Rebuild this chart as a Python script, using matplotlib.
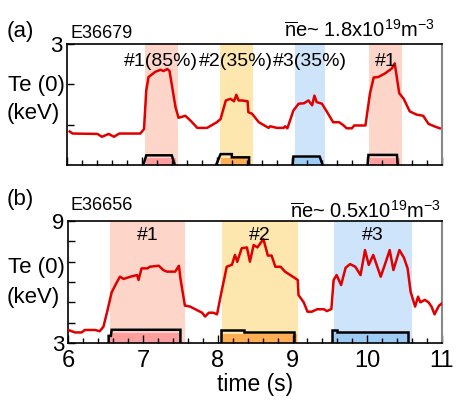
import matplotlib
matplotlib.use("Agg")
import matplotlib.pyplot as plt
from matplotlib.ticker import MultipleLocator

plt.rcParams['font.family'] = ['Liberation Sans', 'DejaVu Sans']
plt.rcParams['mathtext.fontset'] = 'custom'
plt.rcParams['mathtext.rm'] = 'Liberation Sans'
plt.rcParams['mathtext.it'] = 'Liberation Sans:italic'

# ---------------- data ----------------
a_t = [6.04, 6.08, 6.41, 6.47, 6.56, 6.63, 6.70, 6.98, 7.03, 7.06, 7.09, 7.18, 7.25, 7.29,
       7.34, 7.37, 7.45, 7.49, 7.58, 7.65, 7.74, 7.87, 8.00, 8.05, 8.12, 8.18, 8.23, 8.26,
       8.29, 8.34, 8.41, 8.42, 8.47, 8.56, 8.69, 8.71, 8.80, 8.89, 8.91, 8.94, 9.02, 9.09,
       9.16, 9.22, 9.27, 9.30, 9.33, 9.40, 9.47, 9.55, 9.63, 9.69, 9.73, 9.80, 9.83, 9.98,
       10.04, 10.09, 10.15, 10.24, 10.33, 10.37, 10.43, 10.49, 10.57, 10.66, 10.75, 10.82,
       10.91, 10.97]
a_te = [0.83, 0.78, 0.77, 0.70, 0.77, 0.70, 0.78, 0.78, 0.89, 1.85, 2.18, 2.31, 2.36, 2.33,
        2.38, 2.33, 1.43, 1.17, 1.22, 1.10, 0.92, 0.92, 1.06, 1.14, 1.60, 1.64, 1.58, 1.74,
        1.60, 1.60, 1.58, 1.31, 1.27, 1.06, 0.92, 0.96, 0.92, 0.92, 0.96, 0.91, 1.35, 1.52,
        1.53, 1.60, 1.48, 1.72, 1.56, 1.52, 1.31, 1.06, 1.06, 0.98, 0.91, 0.91, 0.98, 0.98,
        1.77, 2.17, 2.18, 2.27, 2.39, 2.52, 1.78, 1.64, 1.33, 1.25, 1.22, 1.02, 0.95, 0.91]

b_t = [6.00, 6.09, 6.18, 6.22, 6.36, 6.42, 6.47, 6.52, 6.58, 6.63, 6.69, 6.74, 6.78, 6.85,
       6.92, 6.94, 6.98, 7.06, 7.09, 7.21, 7.27, 7.32, 7.43, 7.48, 7.50, 7.56, 7.63, 7.72,
       7.79, 7.83, 7.88, 7.94, 7.99, 8.05, 8.12, 8.19, 8.23, 8.26, 8.32, 8.39, 8.43, 8.48,
       8.53, 8.61, 8.67, 8.72, 8.77, 8.84, 8.90, 8.97, 9.07, 9.08, 9.15, 9.20, 9.26, 9.33,
       9.42, 9.46, 9.52, 9.55, 9.59, 9.65, 9.71, 9.77, 9.84, 9.91, 9.97, 10.02, 10.08, 10.18,
       10.24, 10.30, 10.35, 10.43, 10.49, 10.54, 10.58, 10.64, 10.68, 10.71, 10.77, 10.82,
       10.86, 10.90, 10.96, 11.00]
b_te = [3.64, 3.52, 3.52, 3.64, 3.64, 3.58, 3.80, 4.54, 5.49, 5.85, 6.26, 6.15, 6.20, 6.28,
        6.34, 6.10, 6.67, 6.67, 6.75, 6.80, 6.59, 6.51, 6.51, 6.80, 6.18, 4.84, 4.79, 4.62,
        4.49, 4.30, 4.49, 4.49, 4.41, 5.52, 6.75, 6.85, 7.33, 6.99, 7.66, 7.70, 7.00, 7.82,
        7.70, 8.11, 7.30, 7.30, 6.75, 6.75, 6.51, 6.34, 6.10, 5.36, 5.00, 4.54, 4.54, 4.66,
        4.66, 4.57, 4.67, 6.10, 6.34, 5.85, 6.70, 6.88, 6.75, 6.34, 7.57, 6.84, 7.33, 6.26,
        6.90, 7.57, 6.59, 7.57, 7.20, 6.67, 5.52, 4.79, 5.28, 5.00, 5.12, 5.00, 4.79, 4.41,
        4.84, 4.95]

# heating windows (shaded bands)
a_spans = [(7.04, 7.48), (8.04, 8.48), (9.04, 9.44), (10.03, 10.47)]
a_labels = ["#1(85%)", "#2(35%)", "#3(35%)", "#1"]
b_spans = [(6.56, 7.56), (8.06, 9.07), (9.56, 10.60)]
b_labels = ["#1", "#2", "#3"]

# power waveform boxes (outline t, outline y, fill start, fill end, fill top)
a_box_t = [[7.02, 7.06, 7.40, 7.44],
           [7.99, 8.05, 8.20, 8.20, 8.43, 8.43],
           [9.01, 9.02, 9.37, 9.41],
           [10.01, 10.02, 10.40, 10.41]]
a_box_y = [[0, 0.24, 0.24, 0],
           [0, 0.27, 0.27, 0.19, 0.19, 0],
           [0, 0.21, 0.21, 0],
           [0, 0.25, 0.25, 0]]
a_fill = [(7.06, 7.46, 0.18), (8.05, 8.43, 0.17), (9.02, 9.40, 0.17), (10.04, 10.44, 0.18)]

b_box_t = [[6.54, 6.54, 6.57, 6.58, 7.50, 7.50],
           [8.04, 8.04, 8.35, 8.35, 9.02, 9.02],
           [9.53, 9.53, 9.60, 9.60, 10.55, 10.55]]
b_box_y = [[3, 3.35, 3.35, 3.65, 3.65, 3],
           [3, 3.66, 3.66, 3.56, 3.56, 3],
           [3, 3.66, 3.66, 3.56, 3.56, 3]]
b_fill = [(6.56, 7.51, 3.50), (8.04, 9.06, 3.42), (9.53, 10.55, 3.52)]

span_colors = ["#fdd6c9", "#fde7ae", "#cde4fa", "#fdd6c9"]
fill_colors = ["#ff9e9e", "#ffad52", "#9dcbf4", "#ff9e9e"]
b_span_colors = ["#fdd6c9", "#fde7ae", "#cde4fa"]
b_fill_colors = ["#ff9e9e", "#ffad52", "#9dcbf4"]

red = "#e00000"
W, H = 459, 404

fig = plt.figure(figsize=(W / 100, H / 100), dpi=100)


def fpos(x0, y0, x1, y1):
    return [x0 / W, 1 - y1 / H, (x1 - x0) / W, (y1 - y0) / H]


def ftext(x, y, s, **kw):
    fig.text(x / W, 1 - y / H, s, **kw)


ax1 = fig.add_axes(fpos(66.7, 44, 442, 165))
ax2 = fig.add_axes(fpos(68.3, 221, 442, 343))

for ax in (ax1, ax2):
    ax.set_xlim(6, 11)
    ax.xaxis.set_major_locator(MultipleLocator(1))
    ax.xaxis.set_minor_locator(MultipleLocator(0.2))
    ax.tick_params(axis='x', which='major', direction='in', length=6, width=1, top=False)
    ax.tick_params(axis='x', which='minor', direction='in', length=3.5, width=1, top=False)
    ax.tick_params(axis='y', which='major', direction='in', length=5, width=1, right=False,
                   labelsize=16, pad=3)
    for s in ('left', 'bottom', 'top'):
        ax.spines[s].set_linewidth(1.2)
        ax.spines[s].set_color('black')
    ax.spines['right'].set_color('#888888')
    ax.spines['right'].set_linewidth(1.5)

# ---- panel (a)
ax1.set_ylim(0, 3)
ax1.set_yticks([1, 2, 3])
ax1.set_yticklabels(['', '', '3'])
ax1.tick_params(axis='x', labelbottom=False)
for (s0, s1), c in zip(a_spans, span_colors):
    ax1.axvspan(s0, s1, color=c, lw=0, zorder=0)
for (f0, f1, ft), c in zip(a_fill, fill_colors):
    ax1.fill_between([f0, f1], 0, ft, color=c, lw=0, zorder=0.5)
for bt, by in zip(a_box_t, a_box_y):
    ax1.plot(bt, by, color='black', lw=1.8, zorder=2, solid_joinstyle='miter')
ax1.plot(a_t, a_te, color=red, lw=1.8, zorder=3)

# ---- panel (b)
ax2.set_ylim(3, 9)
ax2.set_yticks([3, 4, 5, 6, 7, 8, 9])
ax2.set_yticklabels(['3', '', '', '', '', '', '9'])
ax2.tick_params(axis='x', labelsize=17, pad=5)
for (s0, s1), c in zip(b_spans, b_span_colors):
    ax2.axvspan(s0, s1, color=c, lw=0, zorder=0)
for (f0, f1, ft), c in zip(b_fill, b_fill_colors):
    ax2.fill_between([f0, f1], 3, ft, color=c, lw=0, zorder=0.5)
for bt, by in zip(b_box_t, b_box_y):
    ax2.plot(bt, by, color='black', lw=1.8, zorder=2, solid_joinstyle='miter')
ax2.plot(b_t, b_te, color=red, lw=1.8, zorder=3)
ax2.set_xlabel("time (s)", fontsize=16.5, labelpad=1)

# ---- span labels
for (s0, s1), lab in zip(a_spans, a_labels):
    ax1.text((s0 + s1) / 2, 2.57, lab, ha='center', va='center', fontsize=14)
for (s0, s1), lab in zip(b_spans, b_labels):
    ax2.text((s0 + s1) / 2, 8.3, lab, ha='center', va='center', fontsize=14)

# ---- annotations
ftext(7, 31, "(a)", fontsize=16, va='center')
ftext(71, 33, "E36679", fontsize=13, va='center')
ftext(435, 30, r"$\overline{\mathrm{n}}$e~ 1.8x10$^{19}$m$^{-3}$", fontsize=14.5,
      ha='right', va='center')
ftext(8, 85, "Te (0)", fontsize=16, va='center')
ftext(7, 114, "(keV)", fontsize=16, va='center')

ftext(7, 200, "(b)", fontsize=16, va='center')
ftext(71, 206, "E36656", fontsize=13, va='center')
ftext(441, 211, r"$\overline{\mathrm{n}}$e~ 0.5x10$^{19}$m$^{-3}$", fontsize=14.5,
      ha='right', va='center')
ftext(8, 267, "Te (0)", fontsize=16, va='center')
ftext(7, 297, "(keV)", fontsize=16, va='center')

fig.savefig("out.png", dpi=100)
